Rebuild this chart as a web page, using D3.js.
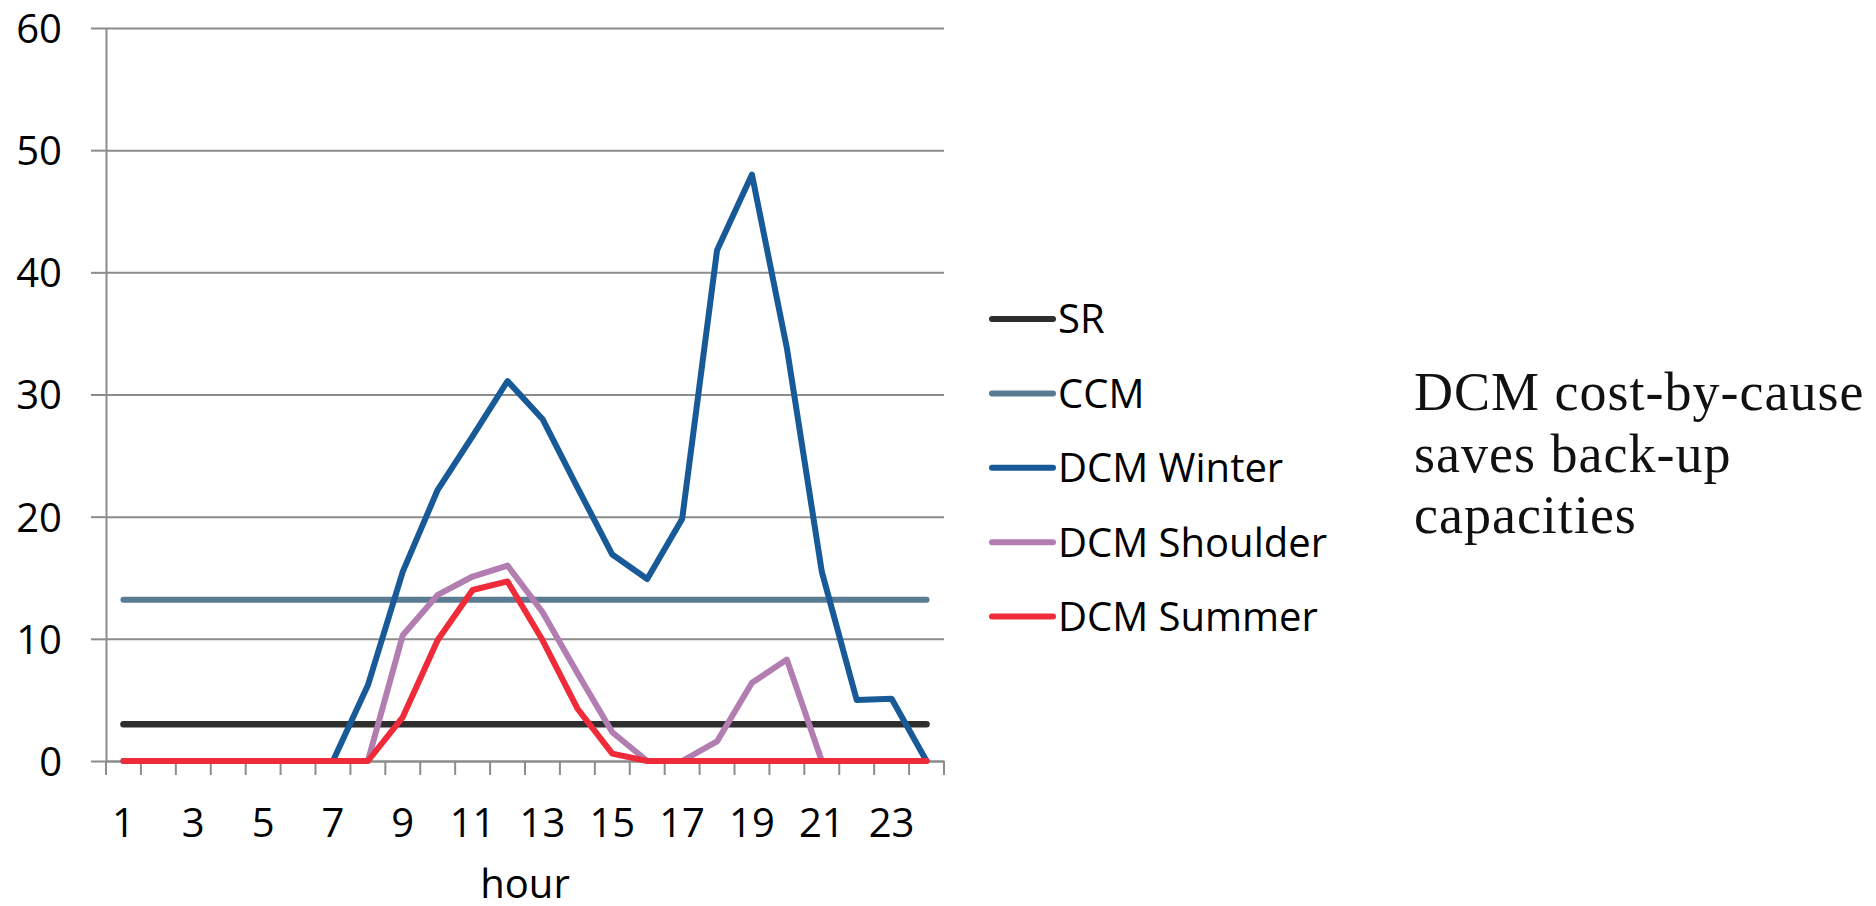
<!DOCTYPE html>
<html>
<head>
<meta charset="utf-8">
<script src="https://cdn.jsdelivr.net/npm/d3@7"></script>
<style>
  html, body { margin: 0; padding: 0; background: #fff; }
  svg { display: block; }
  .axis text { font-family: "Open Sans", sans-serif; font-size: 40px; fill: #000; }
  .axis path, .axis line { stroke: #8c8c8c; stroke-width: 2px; }
  .legend text { font-family: "Open Sans", sans-serif; font-size: 40px; fill: #000; }
  .note { font-family: "Liberation Serif", serif; font-size: 54px; letter-spacing: 1px; fill: #111; }
</style>
</head>
<body>
<div id="chart"></div>
<script>
//data
var hours = [1,2,3,4,5,6,7,8,9,10,11,12,13,14,15,16,17,18,19,20,21,22,23,24];
var hourLabels = [1,3,5,7,9,11,13,15,17,19,21,23];
var yTicks = [0,10,20,30,40,50,60];

var srVals       = [3,3,3,3,3,3,3,3,3,3,3,3,3,3,3,3,3,3,3,3,3,3,3,3];
var ccmVals      = [13.2,13.2,13.2,13.2,13.2,13.2,13.2,13.2,13.2,13.2,13.2,13.2,13.2,13.2,13.2,13.2,13.2,13.2,13.2,13.2,13.2,13.2,13.2,13.2];
var winterVals   = [0,0,0,0,0,0,0,6.2,15.5,22.2,26.6,31.1,28.0,22.4,16.9,14.9,19.8,41.8,48.0,33.8,15.5,5.0,5.1,0];
var shoulderVals = [0,0,0,0,0,0,0,0,10.3,13.6,15.1,16.0,12.2,7.2,2.35,0,0,1.6,6.4,8.3,0,0,0,0];
var summerVals   = [0,0,0,0,0,0,0,0,3.6,9.9,14.0,14.7,9.9,4.3,0.6,0,0,0,0,0,0,0,0,0];

var seriesNames  = ["SR","CCM","DCM Winter","DCM Shoulder","DCM Summer"];
var seriesColors = ["#2e2e2e","#5b7b93","#185a97","#b27db1","#ef2b3a"];
var noteLines = ["DCM cost-by-cause","saves back-up","capacities"];

//////////////////////////////////////////////////////////////////////////////
//Display
var W = 1876, H = 906,
  pLeft = 106, pRight = 944, pTop = 28, pBottom = 761;

var svg = d3.select("#chart").append("svg")
  .attr("width", W)
  .attr("height", H);

var x = d3.scaleBand().domain(hours).range([pLeft, pRight]).padding(0);
var y = d3.scaleLinear().domain([0, 60]).range([pBottom, pTop]);

//gridlines
svg.append("g")
  .attr("class", "axis grid")
  .attr("transform", "translate(" + pLeft + ",0)")
  .call(d3.axisLeft(y).tickValues(yTicks).tickSize(-(pRight - pLeft)).tickFormat(""))
  .call(function(g){ g.select(".domain").remove(); });

//y axis with outward ticks and labels
svg.append("g")
  .attr("class", "axis")
  .attr("transform", "translate(" + pLeft + ",0)")
  .call(d3.axisLeft(y).tickValues(yTicks).tickSizeInner(15).tickSizeOuter(0).tickPadding(29))
  .call(function(g){ g.selectAll("text").attr("dy", "0.36em"); });

//x axis: labels on odd hours, ticks between categories
var xAxis = svg.append("g")
  .attr("class", "axis")
  .attr("transform", "translate(0," + pBottom + ")")
  .call(d3.axisBottom(x).tickValues(hourLabels).tickSize(0).tickPadding(48));
xAxis.selectAll(".tick line").remove();

var edges = hours.map(function(h){ return x(h); }).concat([x(hours[hours.length-1]) + x.step()]);
xAxis.selectAll(".edge").data(edges).enter().append("line")
  .attr("class", "edge")
  .attr("x1", function(d){ return d; })
  .attr("x2", function(d){ return d; })
  .attr("y1", 0)
  .attr("y2", 14);

svg.append("text")
  .attr("x", (pLeft + pRight) / 2)
  .attr("y", 898)
  .attr("text-anchor", "middle")
  .style("font-family", "'Open Sans', sans-serif")
  .style("font-size", "40px")
  .text("hour");

//series
var seriesVals = [srVals, ccmVals, winterVals, shoulderVals, summerVals];
var line = d3.line()
  .x(function(d, i){ return x(hours[i]) + x.bandwidth() / 2; })
  .y(function(d){ return y(d); });

svg.append("g").selectAll("path")
  .data(seriesVals)
  .enter().append("path")
  .attr("d", function(d){ return line(d); })
  .style("fill", "none")
  .style("stroke", function(d, i){ return seriesColors[i]; })
  .style("stroke-width", function(d, i){ return i == 0 ? 6.5 : 6; })
  .style("stroke-linejoin", "round")
  .style("stroke-linecap", "round");

//legend
var legend = svg.append("g").attr("class", "legend");
seriesNames.forEach(function(name, i){
  var ly = 319 + i * 74.4;
  legend.append("line")
    .attr("x1", 992).attr("x2", 1053)
    .attr("y1", ly).attr("y2", ly)
    .style("stroke", seriesColors[i])
    .style("stroke-width", 6)
    .style("stroke-linecap", "round");
  legend.append("text")
    .attr("x", 1058)
    .attr("y", ly)
    .attr("dy", "0.36em")
    .text(name);
});

//annotation
svg.append("g").selectAll("text")
  .data(noteLines)
  .enter().append("text")
  .attr("class", "note")
  .attr("x", 1414)
  .attr("y", function(d, i){ return 410 + i * 61.5; })
  .text(function(d){ return d; });
</script>
</body>
</html>
